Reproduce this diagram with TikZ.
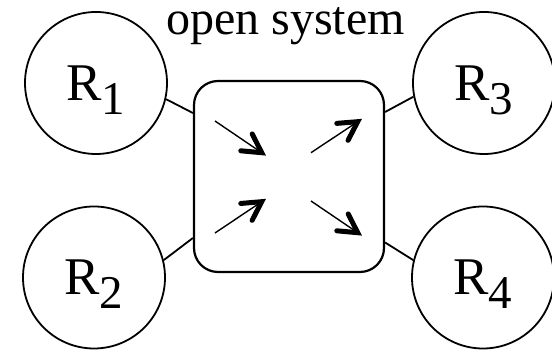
\documentclass[tikz,border=0pt]{standalone}
\usepackage{fontspec}
\setmainfont{Liberation Serif}
\newcommand{\Rsub}[1]{R\raisebox{-14pt}[0pt][0pt]{\fontsize{47}{47}\selectfont #1}}
\tikzset{
  reservoir/.style={circle, draw, line width=1.8pt, minimum size=142pt, inner sep=0pt,
    font=\fontsize{53}{53}\selectfont},
  system/.style={draw, line width=2.2pt, rounded corners=24pt, minimum width=190pt,
    minimum height=191pt, inner sep=0pt},
  link/.style={line width=1.8pt},
  shaft/.style={line width=1.4pt},
  head/.style={line width=5pt, line cap=round, line join=miter},
}
\begin{document}
\begin{tikzpicture}[x=1pt, y=1pt]
  \useasboundingbox (0,0) rectangle (552,352);
  % central open system and the four reservoirs
  \node[system] (box) at (289,175.5) {};
  \node[reservoir] (R1) at (96,269) {\Rsub{1}};
  \node[reservoir] (R2) at (94,74.5) {\Rsub{2}};
  \node[reservoir] (R3) at (484,269) {\Rsub{3}};
  \node[reservoir] (R4) at (483,74.5) {\Rsub{4}};
  \node[font=\fontsize{48}{48}\selectfont, anchor=base, inner sep=0pt] (title)
    at (285.5,317) {open system};
  % couplings between reservoirs and the system
  \draw[link] (R1.-13) -- ([yshift=63.5pt]box.west);
  \draw[link] (R2.14) -- ([yshift=-61.5pt]box.west);
  \draw[link] (R3.191) -- ([yshift=64.5pt]box.east);
  \draw[link] (R4.166) -- ([yshift=-66pt]box.east);
  % flows into and out of the system
  \coordinate (t1) at (215,231);   \coordinate (h1) at (261.7,199.3);
  \coordinate (t2) at (215,119);   \coordinate (h2) at (261.7,150.3);
  \coordinate (t3) at (311,199.3); \coordinate (h3) at (357.7,230.3);
  \coordinate (t4) at (311,151);   \coordinate (h4) at (357.7,119.3);
  \draw[shaft] (t1) -- (h1);
  \draw[shaft] (t2) -- (h2);
  \draw[shaft] (t3) -- (h3);
  \draw[shaft] (t4) -- (h4);
  \draw[head] (h1) +(174.8:21) -- (h1) -- +(116.8:21);
  \draw[head] (h2) +(242.8:21) -- (h2) -- +(184.8:21);
  \draw[head] (h3) +(242.6:21) -- (h3) -- +(184.6:21);
  \draw[head] (h4) +(174.8:21) -- (h4) -- +(116.8:21);
\end{tikzpicture}
\end{document}
